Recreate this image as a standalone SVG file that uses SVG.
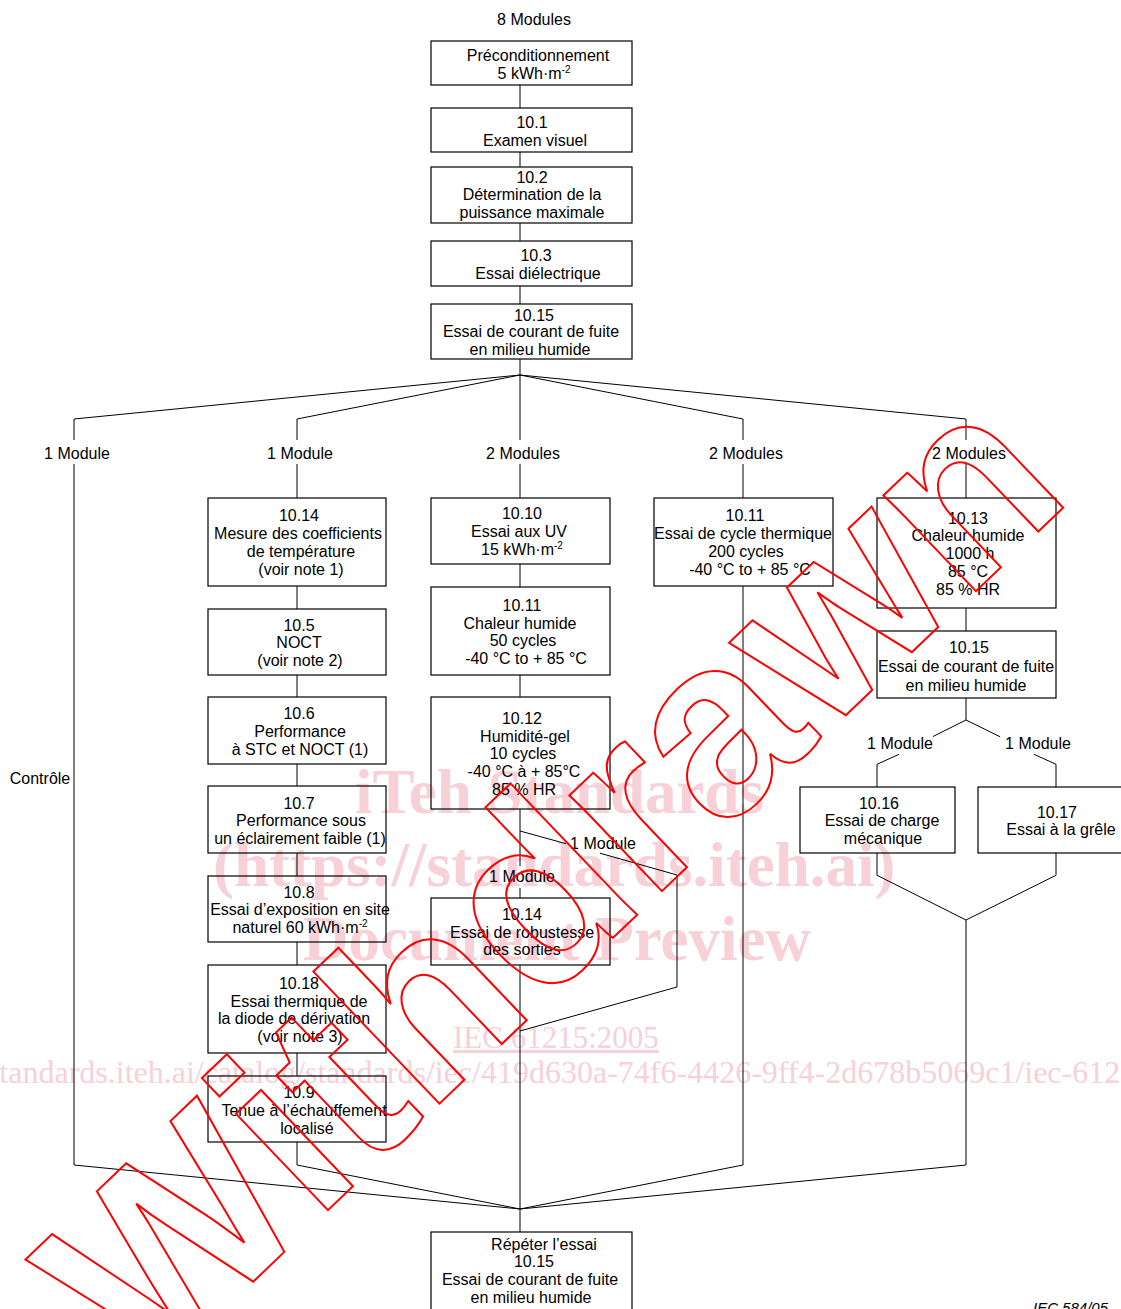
<svg xmlns="http://www.w3.org/2000/svg" width="1121" height="1309" viewBox="0 0 1121 1309">
<style>
.b{fill:none;stroke:#000;stroke-width:1.2}
.c{fill:none;stroke:#000;stroke-width:1}
.t{font-family:"Liberation Sans",Arial,sans-serif;font-size:16px;fill:#000;text-anchor:middle}
.s{font-size:10px}
.wm{font-family:"Liberation Serif","Times New Roman",serif;fill:#f7d0d8}
.wmb{font-weight:bold;font-size:63px}
.wd{font-family:"Liberation Sans",Arial,sans-serif;font-weight:bold;font-size:252px;fill:none;stroke:#f00;stroke-width:2}
</style>
<rect width="1121" height="1309" fill="#fff"/>
<g id="watermark-text">
<text class="wm wmb" x="355" y="813">iTeh Standards</text>
<text class="wm wmb" x="213" y="886">(https://standards.iteh.ai)</text>
<text class="wm wmb" x="303" y="960">Document Preview</text>
<text class="wm" x="453" y="1048" font-size="31" text-decoration="underline">IEC 61215:2005</text>
<text class="wm" x="-102" y="1083" font-size="32">https://standards.iteh.ai/catalog/standards/iec/419d630a-74f6-4426-9ff4-2d678b5069c1/iec-61215-2005</text>
</g>
<g id="connectors">
<path class="c" d="M520,85V108M520,152V167M520,223V241M520,286V304M520,359V375"/>
<path class="c" d="M520,375L74,419V440M74,464V1165"/>
<path class="c" d="M520,375L297,419V440M297,464V498"/>
<path class="c" d="M520,375V440M520,464V498"/>
<path class="c" d="M520,375L743,419V440M743,464V498"/>
<path class="c" d="M520,375L966,419V440M966,464V498"/>
<path class="c" d="M297,586V609M297,675V697M297,764V786M297,853V876M297,942V965M297,1053V1076M297,1142V1165"/>
<path class="c" d="M520,564V587M520,675V697M520,809V866M520,888V898M520,965V1209"/>
<path class="c" d="M520,831L566,843.7M600,853.2L677,875V987L520,1031"/>
<path class="c" d="M743,586V1165"/>
<path class="c" d="M966,608V631M966,698V720L933,736.5M899,754.3L877,764.3V787"/>
<path class="c" d="M966,720L1000,736.7M1034,754.3L1056,764.3V787"/>
<path class="c" d="M877,853V875.3L966,920L1056,875.3V853M966,920V1165"/>
<path class="c" d="M74,1165L520,1209M297,1165L520,1209M743,1165L520,1209M966,1165L520,1209M520,1209V1232"/>
</g>
<g id="labels">
<text class="t" x="534" y="25">8 Modules</text>
<text class="t" x="77" y="459">1 Module</text>
<text class="t" x="300" y="459">1 Module</text>
<text class="t" x="523" y="459">2 Modules</text>
<text class="t" x="746" y="459">2 Modules</text>
<text class="t" x="969" y="459">2 Modules</text>
<text class="t" x="40" y="784">Contrôle</text>
<text class="t" x="603" y="849">1 Module</text>
<text class="t" x="522" y="882">1 Module</text>
<text class="t" x="900" y="749">1 Module</text>
<text class="t" x="1038" y="749">1 Module</text>
<text x="1033" y="1313" font-family="Liberation Sans,Arial,sans-serif" font-size="15" font-style="italic">IEC  584/05</text>
</g>
<g id="n-precond"><rect class="b" x="431" y="41" width="201" height="44"/>
<text class="t" x="538" y="61">Préconditionnement</text>
<text class="t" x="534" y="79">5 kWh·m<tspan class="s" dy="-6">-2</tspan></text></g>
<g id="n-10-1"><rect class="b" x="431" y="108" width="201" height="44"/>
<text class="t" x="532" y="128">10.1</text><text class="t" x="535" y="146">Examen visuel</text></g>
<g id="n-10-2"><rect class="b" x="431" y="167" width="201" height="56"/>
<text class="t" x="532" y="183">10.2</text><text class="t" x="532" y="200">Détermination de la</text><text class="t" x="532" y="218">puissance maximale</text></g>
<g id="n-10-3"><rect class="b" x="431" y="241" width="201" height="45"/>
<text class="t" x="536" y="261">10.3</text><text class="t" x="538" y="279">Essai diélectrique</text></g>
<g id="n-10-15-a"><rect class="b" x="431" y="304" width="201" height="55"/>
<text class="t" x="534" y="321">10.15</text><text class="t" x="531" y="337">Essai de courant de fuite</text><text class="t" x="530" y="355">en milieu humide</text></g>
<g id="n-10-14-a"><rect class="b" x="208" y="498" width="178" height="88"/>
<text class="t" x="299" y="521">10.14</text><text class="t" x="298" y="539">Mesure des coefficients</text><text class="t" x="301" y="557">de température</text><text class="t" x="301" y="575">(voir note 1)</text></g>
<g id="n-10-5"><rect class="b" x="208" y="609" width="178" height="66"/>
<text class="t" x="299" y="631">10.5</text><text class="t" x="299" y="648">NOCT</text><text class="t" x="300" y="666">(voir note 2)</text></g>
<g id="n-10-6"><rect class="b" x="208" y="697" width="178" height="67"/>
<text class="t" x="299" y="719">10.6</text><text class="t" x="300" y="737">Performance</text><text class="t" x="300" y="755">à STC et NOCT (1)</text></g>
<g id="n-10-7"><rect class="b" x="208" y="786" width="178" height="67"/>
<text class="t" x="299" y="809">10.7</text><text class="t" x="301" y="826">Performance sous</text><text class="t" x="300" y="844">un éclairement faible (1)</text></g>
<g id="n-10-8"><rect class="b" x="208" y="876" width="178" height="66"/>
<text class="t" x="299" y="898">10.8</text><text class="t" x="300" y="915">Essai d’exposition en site</text><text class="t" x="300" y="933">naturel 60 kWh·m<tspan class="s" dy="-6">-2</tspan></text></g>
<g id="n-10-18"><rect class="b" x="208" y="965" width="178" height="88"/>
<text class="t" x="299" y="989">10.18</text><text class="t" x="299" y="1007">Essai thermique de</text><text class="t" x="294" y="1024">la diode de dérivation</text><text class="t" x="300" y="1042">(voir note 3)</text></g>
<g id="n-10-9"><rect class="b" x="208" y="1076" width="178" height="66"/>
<text class="t" x="299" y="1098">10.9</text><text class="t" x="304" y="1116">Tenue à l’échauffement</text><text class="t" x="307" y="1134">localisé</text></g>
<g id="n-10-10"><rect class="b" x="431" y="498" width="179" height="66"/>
<text class="t" x="522" y="519">10.10</text><text class="t" x="519" y="537">Essai aux UV</text><text class="t" x="522" y="555">15 kWh·m<tspan class="s" dy="-6">-2</tspan></text></g>
<g id="n-10-11-b"><rect class="b" x="431" y="587" width="179" height="88"/>
<text class="t" x="522" y="611">10.11</text><text class="t" x="520" y="629">Chaleur humide</text><text class="t" x="523" y="646">50 cycles</text><text class="t" x="526" y="664">-40 °C to + 85 °C</text></g>
<g id="n-10-12"><rect class="b" x="431" y="697" width="179" height="112"/>
<text class="t" x="522" y="724">10.12</text><text class="t" x="525" y="742">Humidité-gel</text><text class="t" x="523" y="759">10 cycles</text><text class="t" x="524" y="777">-40 °C à + 85°C</text><text class="t" x="524" y="795">85 % HR</text></g>
<g id="n-10-14-b"><rect class="b" x="431" y="898" width="179" height="67"/>
<text class="t" x="522" y="920">10.14</text><text class="t" x="522" y="938">Essai de robustesse</text><text class="t" x="522" y="955">des sorties</text></g>
<g id="n-10-11-a"><rect class="b" x="654" y="498" width="179" height="88"/>
<text class="t" x="745" y="521">10.11</text><text class="t" x="743" y="539">Essai de cycle thermique</text><text class="t" x="746" y="557">200 cycles</text><text class="t" x="750" y="575">-40 °C to + 85 °C</text></g>
<g id="n-10-13"><rect class="b" x="877" y="498" width="179" height="110"/>
<text class="t" x="968" y="524">10.13</text><text class="t" x="968" y="541">Chaleur humide</text><text class="t" x="970" y="559">1000 h</text><text class="t" x="968" y="577">85 °C</text><text class="t" x="968" y="595">85 % HR</text></g>
<g id="n-10-15-b"><rect class="b" x="877" y="631" width="179" height="67"/>
<text class="t" x="969" y="653">10.15</text><text class="t" x="966" y="672">Essai de courant de fuite</text><text class="t" x="966" y="691">en milieu humide</text></g>
<g id="n-10-16"><rect class="b" x="800" y="787" width="155" height="66"/>
<text class="t" x="879" y="809">10.16</text><text class="t" x="882" y="826">Essai de charge</text><text class="t" x="883" y="844">mécanique</text></g>
<g id="n-10-17"><rect class="b" x="978" y="787" width="156" height="66"/>
<text class="t" x="1057" y="818">10.17</text><text class="t" x="1061" y="835">Essai à la grêle</text></g>
<g id="n-final"><rect class="b" x="431" y="1232" width="201" height="82"/>
<text class="t" x="544" y="1250">Répéter l’essai</text><text class="t" x="534" y="1267">10.15</text><text class="t" x="530" y="1285">Essai de courant de fuite</text><text class="t" x="531" y="1303">en milieu humide</text></g>
<g id="withdrawn-stamp">
<text class="wd" transform="translate(145,1385) rotate(-43.7)">Withdrawn</text>
</g>
</svg>
